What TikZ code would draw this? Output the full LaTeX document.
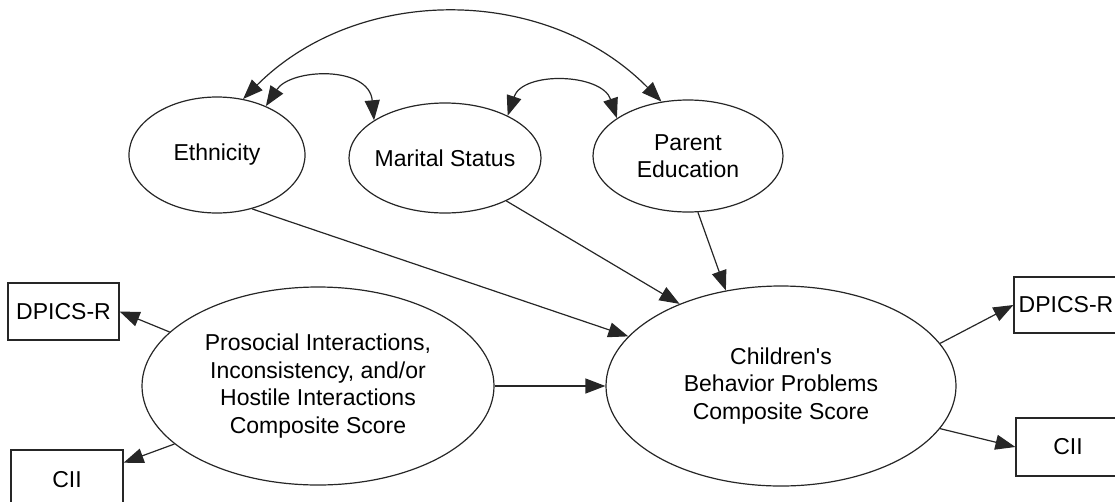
\documentclass[tikz,border=0pt]{standalone}
\usepackage{fontspec}
\setmainfont{Liberation Sans}
\usetikzlibrary{arrows.meta,shapes.geometric}

\begin{document}
\begin{tikzpicture}[x=1pt,y=-1pt,
  every node/.style={font=\fontsize{23}{27.5}\selectfont, align=center, inner sep=0pt},
  latent/.style={ellipse, draw=black!85, line width=1.2pt},
  indicator/.style={rectangle, draw=black!85, line width=1.2pt},
  effect/.style={draw=black!85, line width=1.2pt, -{Triangle[length=20pt,width=15pt]}},
  cov/.style={draw=black!85, line width=1.2pt, {Triangle[length=20pt,width=15pt]}-{Triangle[length=20pt,width=15pt]}},
]
\useasboundingbox (0,0) rectangle (1115,501);
\clip (0,0) rectangle (1115,501);

% latent variables
\node[latent, minimum width=176pt, minimum height=116pt] (eth) at (217,155) {Ethnicity};
\node[latent, inner xsep=-4pt, minimum width=192pt, minimum height=110pt] (mar) at (445,158) {Marital Status};
\node[latent, minimum width=190pt, minimum height=112pt] (par) at (688,156) {Parent\\Education};
\node[latent, minimum width=352pt, minimum height=198pt] (pro) at (318,386)
  {Prosocial Interactions,\\Inconsistency, and/or\\Hostile Interactions\\Composite Score};
\node[latent, minimum width=350pt, minimum height=200pt] (chi) at (781,386)
  {Children\textquotesingle s\\Behavior Problems\\Composite Score};

% observed indicators
\node[indicator, minimum width=111pt, minimum height=57pt] (dl) at (63.5,311.5) {DPICS-R};
\node[indicator, minimum width=112pt, minimum height=60pt] (cl) at (67,480) {CII};
\node[indicator, minimum width=104pt, minimum height=56pt] (dr) at (1066,305) {DPICS-R};
\node[indicator, minimum width=104pt, minimum height=58pt] (cr) at (1068,447) {CII};

% directed paths
\draw[effect] (pro.east) -- (chi.west);
\draw[effect] (eth.-57) -- (chi.162);
\draw[effect] (mar.-35) -- (chi.141);
\draw[effect] (par.-80) -- (chi.120);
\draw[effect] (pro.160) -- (dl.east);
\draw[effect] (pro.202) -- (cl.17);
\draw[effect] (chi.15) -- (dr.west);
\draw[effect] (chi.-15) -- (cr.west);

% covariances among demographics
\draw[cov] (eth.65) .. controls +(115,-115) and +(-115,-117) .. (par.116);
\draw[cov] (eth.45) .. controls +(25,-38) and +(-5,-55) .. (mar.152);
\draw[cov] (mar.34) .. controls +(15,-45) and +(-15,-45) .. (par.152);
\end{tikzpicture}
\end{document}
